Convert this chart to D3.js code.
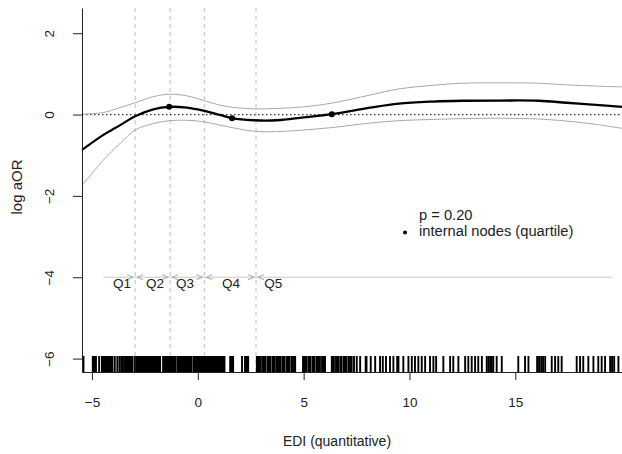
<!DOCTYPE html>
<html>
<head>
<meta charset="utf-8">
<script src="https://cdn.jsdelivr.net/npm/d3@7"></script>
<style>
  html, body { margin: 0; padding: 0; background: #fff; }
  svg { display: block; font-family: "Liberation Sans", Arial, sans-serif; }
</style>
</head>
<body>
<svg id="chart" width="622" height="454"></svg>
<script>
// ---- data ----
const xGrid = [-5.47, -4.46, -3.67, -2.96, -2.1, -1.35, -0.52, 0.31, 1.05, 1.62, 2.63, 3.73, 4.99, 6.33, 8.14, 9.5, 11.13, 12.5, 14.3, 16.1, 17.43, 18.8, 20.04];
const fitValues = [-0.87, -0.5, -0.26, -0.04, 0.13, 0.19, 0.17, 0.09, -0.01, -0.09, -0.14, -0.14, -0.07, 0.01, 0.17, 0.27, 0.32, 0.34, 0.345, 0.34, 0.29, 0.24, 0.19];
const upperValues = [0.01, 0.05, 0.17, 0.29, 0.44, 0.50, 0.46, 0.34, 0.23, 0.18, 0.14, 0.15, 0.19, 0.28, 0.48, 0.63, 0.72, 0.77, 0.78, 0.77, 0.73, 0.70, 0.68];
const lowerValues = [-1.74, -1.12, -0.71, -0.38, -0.22, -0.15, -0.14, -0.18, -0.26, -0.32, -0.41, -0.42, -0.38, -0.32, -0.21, -0.15, -0.12, -0.10, -0.09, -0.11, -0.16, -0.24, -0.34];

const nodeX = [-1.35, 1.62, 6.33];
const nodeY = [0.19, -0.09, 0.01];

const quintileCuts = [-2.96, -1.31, 0.31, 2.75];
const quintileLabels = ["Q1", "Q2", "Q3", "Q4", "Q5"];
const quintileLabelX = [-3.58, -2.02, -0.60, 1.57, 3.56];
const quintileLineRange = [-4.47, 19.57];
const quintileLineY = -4;

const rugValues = [
  -5.40,
  -4.96, -4.91, -4.86, -4.81, -4.66,
  -4.53, -4.48, -4.43, -4.38, -4.33, -4.28, -4.23, -4.18, -4.13, -4.08, -4.03,
  -3.92, -3.80, -3.70, -3.62, -3.55, -3.48,
  -3.43, -3.38, -3.33, -3.28, -3.23, -3.18, -3.13, -3.08, -2.97,
  -2.88, -2.83, -2.78, -2.73, -2.68, -2.63, -2.58, -2.53, -2.48, -2.43, -2.38, -2.33, -2.28, -2.23, -2.18, -2.13, -2.08, -2.03, -1.98, -1.93, -1.88, -1.83, -1.78,
  -1.64, -1.59, -1.54, -1.49, -1.44, -1.39, -1.34, -1.29, -1.24, -1.19, -1.14, -1.09, -1.04, -0.94, -0.89, -0.84, -0.79, -0.74, -0.69, -0.64, -0.59, -0.54, -0.49, -0.44, -0.39, -0.34, -0.29, -0.19, -0.14, -0.09, -0.04, 0.01, 0.06, 0.11, 0.16, 0.21, 0.26, 0.31, 0.36, 0.41, 0.46, 0.51, 0.56, 0.61, 0.66,
  0.71, 0.76, 0.81, 0.86, 0.91, 0.96, 1.01, 1.06, 1.11, 1.16, 1.21, 1.26,
  1.53, 1.58, 1.63, 1.67, 2.09, 2.23, 2.28, 2.33, 2.38,
  2.79, 2.84, 2.89, 2.94, 3.04, 3.09, 3.14, 3.19, 3.29, 3.34, 3.39, 3.44, 3.54, 3.59, 3.64, 3.74, 3.79, 3.84, 3.89, 3.99, 4.04, 4.09, 4.19, 4.24, 4.29, 4.34, 4.44, 4.49, 4.55, 4.60,
  4.97, 5.02, 5.07, 5.12, 5.22, 5.27, 5.32, 5.42, 5.47, 5.52, 5.62, 5.67, 5.72, 5.77, 5.87, 5.92, 5.97, 6.01,
  6.33, 6.38, 6.43, 6.53, 6.58, 6.63, 6.73, 6.78, 6.88, 6.93, 6.98, 7.03, 7.13, 7.19,
  7.27, 7.38, 7.51, 7.67, 7.93, 7.97, 8.17, 8.38, 8.61, 8.74, 8.89, 9.08, 9.24, 9.42, 9.48, 9.71, 9.95, 10.11, 10.26, 10.42, 10.58, 10.74, 10.97, 11.13, 11.26, 11.60, 11.92, 12.07, 12.31, 12.63, 12.78, 12.94, 13.10, 13.25, 13.42,
  13.65, 13.73, 13.81, 13.89, 13.96, 14.12, 14.36, 15.14, 15.46, 15.62, 16.03, 16.12, 16.22, 16.31, 16.41, 16.72, 16.88, 17.03, 17.19, 17.90, 18.06, 18.21, 18.45, 18.69, 18.92, 19.08, 19.24, 19.48, 19.57, 19.67, 19.87
];

const xTicks = [-5, 0, 5, 10, 15];
const yTicks = [-6, -4, -2, 0, 2];
const xLabel = "EDI (quantitative)";
const yLabel = "log aOR";
const pText = "p = 0.20";
const legendText = "internal nodes (quartile)";

// ---- layout ----
const svg = d3.select("#chart");
const x = d3.scaleLinear().domain([-5.47, 20.04]).range([82, 622]);
const y = d3.scaleLinear().domain([-6.33, 2.62]).range([372, 8]);
const FONT = "Liberation Sans, Arial, sans-serif";

const fitData = xGrid.map((d, i) => ({ x: d, fit: fitValues[i], lo: lowerValues[i], hi: upperValues[i] }));

// quintile vertical dashed lines
svg.append("g").selectAll("line").data(quintileCuts).join("line")
  .attr("x1", d => x(d)).attr("x2", d => x(d))
  .attr("y1", y.range()[1]).attr("y2", y.range()[0])
  .attr("stroke", "#bdbdbd").attr("stroke-width", 1)
  .attr("stroke-dasharray", "4,4");

// zero dotted line
svg.append("line")
  .attr("x1", x.range()[0]).attr("x2", x.range()[1])
  .attr("y1", y(0)).attr("y2", y(0))
  .attr("stroke", "#333").attr("stroke-width", 1.2)
  .attr("stroke-dasharray", "1.5,2.5");

// CI lines
const lineGen = key => d3.line().x(d => x(d.x)).y(d => y(d[key])).curve(d3.curveCatmullRom.alpha(0.5));
svg.append("path").datum(fitData).attr("d", lineGen("hi"))
  .attr("fill", "none").attr("stroke", "#a8a8a8").attr("stroke-width", 1);
svg.append("path").datum(fitData).attr("d", lineGen("lo"))
  .attr("fill", "none").attr("stroke", "#a8a8a8").attr("stroke-width", 1);
// fit
svg.append("path").datum(fitData).attr("d", lineGen("fit"))
  .attr("fill", "none").attr("stroke", "#000").attr("stroke-width", 2.3);

// nodes
svg.append("g").selectAll("circle").data(nodeX).join("circle")
  .attr("cx", d => x(d)).attr("cy", (d, i) => y(nodeY[i])).attr("r", 3)
  .attr("fill", "#000");

// quintile horizontal line with arrows
const qy = y(quintileLineY);
svg.append("line")
  .attr("x1", x(quintileLineRange[0])).attr("x2", x(quintileLineRange[1]))
  .attr("y1", qy).attr("y2", qy)
  .attr("stroke", "#c8c8c8").attr("stroke-width", 1.2);
const arrowG = svg.append("g").attr("fill", "none").attr("stroke", "#a8a8a8").attr("stroke-width", 1);
quintileCuts.forEach(c => {
  const cx = x(c);
  arrowG.append("path").attr("d", `M${cx - 8},${qy - 2.5} L${cx - 2},${qy} L${cx - 8},${qy + 2.5}`);
  arrowG.append("path").attr("d", `M${cx + 8},${qy - 2.5} L${cx + 2},${qy} L${cx + 8},${qy + 2.5}`);
});
svg.append("g").selectAll("text").data(quintileLabels).join("text")
  .attr("x", (d, i) => x(quintileLabelX[i])).attr("y", qy + 11)
  .attr("text-anchor", "middle").attr("font-size", 13.5).attr("fill", "#222")
  .text(d => d);

// rug
svg.append("g").selectAll("line").data(rugValues).join("line")
  .attr("x1", d => x(d)).attr("x2", d => x(d))
  .attr("y1", 356).attr("y2", 372)
  .attr("stroke", "#000").attr("stroke-width", 1.9);

// axes
const xAxis = svg.append("g").attr("transform", "translate(0,372)")
  .call(d3.axisBottom(x).tickValues(xTicks).tickSize(8).tickSizeOuter(0).tickFormat(d3.format("d")));
xAxis.selectAll("text").attr("y", 34.5).attr("dy", null).attr("font-size", 13.5)
  .attr("font-family", FONT).attr("fill", "#222");

const yAxis = svg.append("g").attr("transform", "translate(82,0)")
  .call(d3.axisLeft(y).tickValues(yTicks).tickSize(9).tickSizeOuter(0).tickFormat(d3.format("d")));
yAxis.selectAll(".tick text")
  .attr("x", null).attr("dy", null)
  .attr("text-anchor", "middle")
  .attr("transform", "translate(-28.5,0) rotate(-90)")
  .attr("font-size", 13.5).attr("font-family", FONT).attr("fill", "#222");
svg.selectAll(".domain").attr("stroke", "#222");
svg.selectAll(".tick line").attr("stroke", "#222");

// axis titles
svg.append("text").attr("x", 337).attr("y", 446).attr("text-anchor", "middle")
  .attr("font-size", 14).attr("fill", "#222").text(xLabel);
svg.append("text").attr("transform", "translate(22,187) rotate(-90)").attr("text-anchor", "middle")
  .attr("font-size", 15).attr("fill", "#222").text(yLabel);

// legend
svg.append("text").attr("x", 419).attr("y", 220).attr("font-size", 14.7).attr("fill", "#222").text(pText);
svg.append("circle").attr("cx", 405).attr("cy", 232.5).attr("r", 2).attr("fill", "#000");
svg.append("text").attr("x", 419).attr("y", 236).attr("font-size", 14.7).attr("fill", "#222").text(legendText);
</script>
</body>
</html>
